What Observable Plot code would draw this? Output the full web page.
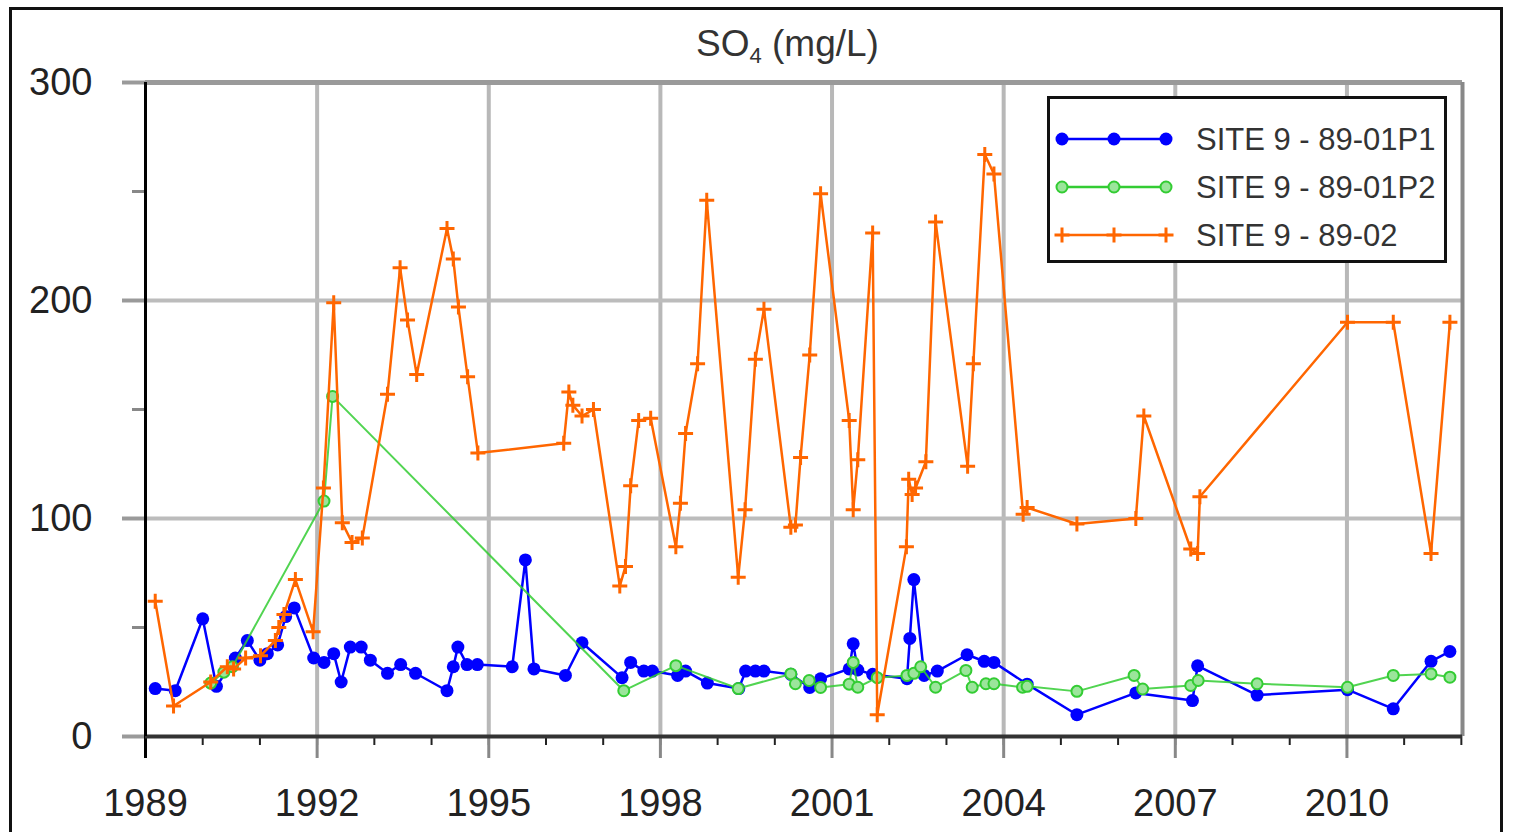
<!DOCTYPE html>
<html>
<head>
<meta charset="utf-8">
<script src="https://cdn.jsdelivr.net/npm/d3@7"></script>
<script src="https://cdn.jsdelivr.net/npm/@observablehq/plot@0.6"></script>
<style>
  html, body { margin: 0; padding: 0; background: #fff; }
  body { width: 1516px; height: 832px; overflow: hidden; position: relative; font-family: "Liberation Sans", Arial, sans-serif; }
  #outer { position: absolute; left: 9px; top: 7px; width: 1494px; height: 900px; border: 3px solid #111; box-sizing: border-box; }
  #title { position: absolute; left: 696px; top: 23px; font-size: 37px; line-height: 42px; color: #333; white-space: nowrap; }
  #title sub { font-size: 22px; vertical-align: -7px; line-height: 0; }
  #chart { position: absolute; left: 0; top: 0; }
  #legend { position: absolute; left: 0; top: 0; }
</style>
</head>
<body>
<div id="outer"></div>
<div id="title">SO<sub>4</sub> (mg/L)</div>
<div id="chart"></div>
<svg id="legend" width="1516" height="832"></svg>
<script>
// ---- Data (decimal year, mg/L) ----
const seriesNames = ["SITE 9 - 89-01P1", "SITE 9 - 89-01P2", "SITE 9 - 89-02"];
const seriesColors = ["#0000ff", "#33cc33", "#ff6600"];

const p1Year = [1989.17,1989.52,1990.00,1990.24,1990.57,1990.78,1991.00,1991.13,1991.31,1991.45,1991.60,1991.94,1992.12,1992.29,1992.42,1992.58,1992.77,1992.93,1993.23,1993.46,1993.72,1994.27,1994.38,1994.46,1994.62,1994.80,1995.41,1995.64,1995.79,1996.34,1996.63,1997.33,1997.48,1997.71,1997.86,1998.30,1998.44,1998.82,1999.37,1999.49,1999.66,1999.81,2000.28,2000.61,2000.80,2001.30,2001.37,2001.45,2001.71,2002.31,2002.36,2002.43,2002.61,2002.84,2003.36,2003.66,2003.83,2004.41,2005.28,2006.31,2007.30,2007.39,2008.43,2010.01,2010.81,2011.47,2011.80];
const p1Value = [22,21,54,23,36,44,35,38,42,55,59,36,34,38,25,41,41,35,29,33,29,21,32,41,33,33,32,81,31,28,43,27,34,30,30,28,30,24.5,22,30,30,30,28.5,22.5,26.5,31,42.5,30.5,28.5,26.5,45,72,28,30,37.5,34.5,34,24,10,20,16.5,32.4,19,21.5,12.7,34.5,39];

const p2Year = [1990.14,1990.37,1990.52,1992.12,1992.27,1997.36,1998.27,1999.36,2000.28,2000.36,2000.60,2000.80,2001.30,2001.37,2001.45,2001.79,2002.31,2002.43,2002.55,2002.81,2003.34,2003.45,2003.69,2003.83,2004.33,2004.41,2005.28,2006.28,2006.43,2007.27,2007.40,2008.43,2010.01,2010.81,2011.47,2011.80];
const p2Value = [24.5,29.5,32,108,156,21,32.5,22,28.7,24.2,25.7,22.5,24,34,22.6,27,28,29,32,22.6,30.3,22.6,24.2,24.2,22.6,23,20.7,28,21.8,23.4,25.7,24.2,22.6,28,28.7,27.2];

const s02Year = [1989.17,1989.49,1990.14,1990.43,1990.54,1990.75,1991.01,1991.27,1991.33,1991.42,1991.62,1991.93,1992.11,1992.29,1992.44,1992.61,1992.79,1993.23,1993.45,1993.58,1993.74,1994.27,1994.38,1994.47,1994.63,1994.81,1996.31,1996.40,1996.47,1996.63,1996.83,1997.29,1997.39,1997.48,1997.62,1997.83,1998.27,1998.35,1998.44,1998.65,1998.81,1999.36,1999.48,1999.66,1999.81,2000.28,2000.36,2000.45,2000.61,2000.80,2001.30,2001.37,2001.45,2001.71,2001.79,2002.30,2002.34,2002.40,2002.46,2002.64,2002.81,2003.37,2003.47,2003.67,2003.83,2004.34,2004.41,2005.28,2006.31,2006.45,2007.27,2007.39,2007.43,2010.01,2010.81,2011.47,2011.80];
const s02Value = [62,14,25,32,31,36,37,44,50,56,72,48,114,199,98,89,91,157,215,191,166,233,219,197,165,130,134.5,158,152,147,150,69,78,115,145,146,87,107,139,171,246,73,104,173,196,96,97,128,175,249,145,104,127,231,10,87,118,111,114,126,236,124,171,267,258,102,105,97.5,100,147,86,84,110,190,190,84,190];

const xTickYears = [1989,1992,1995,1998,2001,2004,2007,2010];
const yTicks = [0,100,200,300];
const yMinorTicks = [50,150,250];
const xDomain = [1989, 2012.02];

// ---- Build tables ----
const zip = (xs, vs) => xs.map((t, i) => ({year: t, value: vs[i]}));
const p1 = zip(p1Year, p1Value);
const p2 = zip(p2Year, p2Value);
const s02 = zip(s02Year, s02Value);

const plusSymbol = {
  draw(ctx, size) {
    const r = Math.sqrt(size / Math.PI);
    ctx.moveTo(-r, 0); ctx.lineTo(r, 0);
    ctx.moveTo(0, -r); ctx.lineTo(0, r);
  }
};

const chart = Plot.plot({
  width: 1516,
  height: 832,
  marginLeft: 145,
  marginRight: 54,
  marginTop: 82,
  marginBottom: 96,
  style: {fontFamily: "'Liberation Sans', Arial, sans-serif", fontSize: "38px", background: "transparent", overflow: "visible"},
  x: {domain: xDomain},
  y: {domain: [0, 300]},
  marks: [
    Plot.gridX(xTickYears.slice(1), {stroke: "#b8b8b8", strokeOpacity: 1, strokeWidth: 4}),
    Plot.gridY([100, 200], {stroke: "#bcbcbc", strokeOpacity: 1, strokeWidth: 4}),
    Plot.ruleY([300], {stroke: "#9a9a9a", strokeWidth: 5}),
    Plot.ruleX([xDomain[1]], {stroke: "#888", strokeWidth: 4}),
    Plot.axisY(yTicks, {tickSize: 23, tickPadding: 30, stroke: "#9a9a9a", strokeWidth: 4, fill: "#222", label: null, tickFormat: d => String(d)}),
    Plot.axisY(yMinorTicks, {tickSize: 13, stroke: "#888", strokeWidth: 3, label: null, tickFormat: () => ""}),
    Plot.axisX(d3.range(1989, 2013), {tickSize: 9, stroke: "#222", strokeWidth: 2, label: null, tickFormat: () => ""}),
    Plot.axisX(xTickYears, {tickSize: 22, tickPadding: 31, stroke: "#888", strokeWidth: 3, fill: "#222", label: null, tickFormat: d => String(d)}),
    Plot.axisX([1989], {tickSize: 22, stroke: "#000", strokeWidth: 3, label: null, tickFormat: () => ""}),
    Plot.ruleY([0], {stroke: "#333", strokeWidth: 4}),
    Plot.ruleX([1989], {stroke: "#000", strokeWidth: 3}),
    // Series
    Plot.line(p1, {x: "year", y: "value", stroke: seriesColors[0], strokeWidth: 2.5}),
    Plot.dot(p1, {x: "year", y: "value", r: 6.5, fill: seriesColors[0], stroke: "none"}),
    Plot.line(p2, {x: "year", y: "value", stroke: seriesColors[1], strokeWidth: 2, strokeOpacity: 0.85}),
    Plot.dot(p2, {x: "year", y: "value", r: 5.5, fill: "#9be59b", stroke: seriesColors[1], strokeWidth: 2}),
    Plot.line(s02, {x: "year", y: "value", stroke: seriesColors[2], strokeWidth: 2.5}),
    Plot.dot(s02, {x: "year", y: "value", r: 7.5, symbol: plusSymbol, fill: "none", stroke: seriesColors[2], strokeWidth: 3})
  ]
});
document.getElementById("chart").appendChild(chart);

// ---- Legend ----
const lg = d3.select("#legend");
lg.append("rect").attr("x", 1048.5).attr("y", 97.5).attr("width", 397).attr("height", 164)
  .attr("fill", "#fff").attr("stroke", "#111").attr("stroke-width", 3);
const rowY = [139, 187, 235];
const swX = [1062, 1114, 1166];
seriesNames.forEach((name, i) => {
  const y = rowY[i], c = seriesColors[i];
  lg.append("line").attr("x1", swX[0]).attr("x2", swX[2]).attr("y1", y).attr("y2", y)
    .attr("stroke", c).attr("stroke-width", 2.5);
  swX.forEach(x => {
    if (i === 0) lg.append("circle").attr("cx", x).attr("cy", y).attr("r", 6.5).attr("fill", c);
    else if (i === 1) lg.append("circle").attr("cx", x).attr("cy", y).attr("r", 5.5).attr("fill", "#9be59b").attr("stroke", c).attr("stroke-width", 2);
    else lg.append("path").attr("d", `M${x-7.5},${y}H${x+7.5}M${x},${y-7.5}V${y+7.5}`).attr("stroke", c).attr("stroke-width", 3);
  });
  lg.append("text").attr("x", 1196).attr("y", y).attr("dy", "0.36em")
    .attr("font-family", "'Liberation Sans', Arial, sans-serif").attr("font-size", 31).attr("fill", "#333")
    .text(name);
});
</script>
</body>
</html>
